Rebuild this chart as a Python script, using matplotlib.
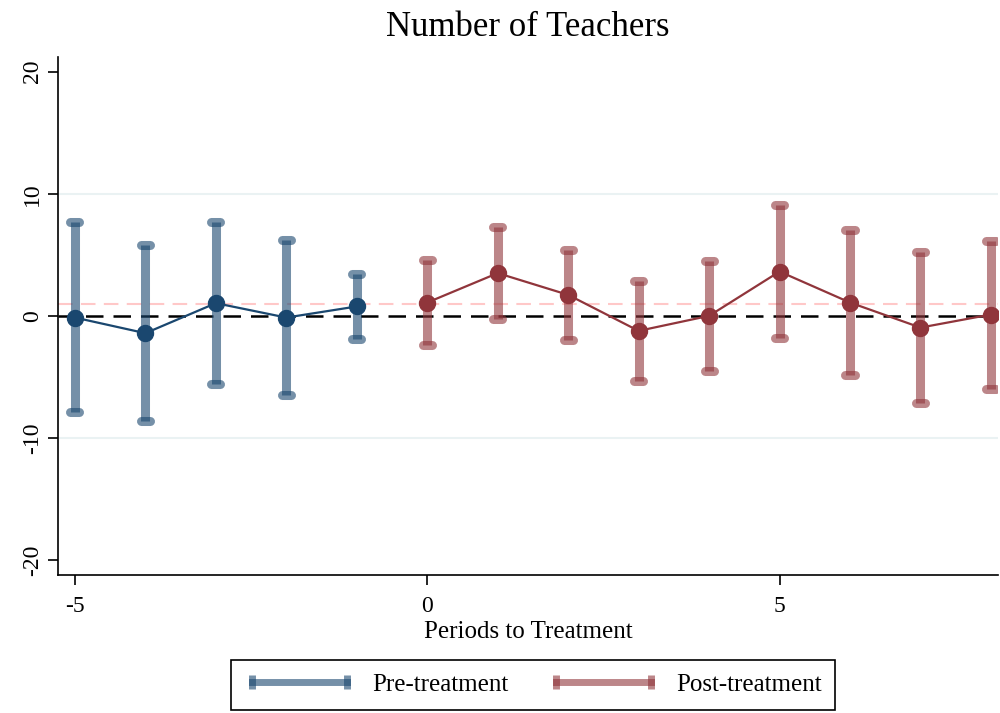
import matplotlib.pyplot as plt
from matplotlib.lines import Line2D
import numpy as np

plt.rcParams['font.family'] = ['Liberation Serif', 'DejaVu Serif']
plt.rcParams['axes.unicode_minus'] = False

# event-study estimates with 95% CIs
pre_periods = [-5, -4, -3, -2, -1]
pre_coef = [-0.14, -1.42, 1.04, -0.14, 0.77]
pre_lo = [-7.9, -8.58, -5.6, -6.48, -1.89]
pre_hi = [7.68, 5.82, 7.68, 6.23, 3.44]

post_periods = [0, 1, 2, 3, 4, 5, 6, 7, 8]
post_coef = [1.09, 3.5, 1.72, -1.23, 0.0, 3.63, 1.09, -0.96, 0.11]
post_lo = [-2.38, -0.27, -2.0, -5.3, -4.51, -1.8, -4.84, -7.1, -5.96]
post_hi = [4.56, 7.27, 5.41, 2.87, 4.51, 9.1, 7.02, 5.22, 6.17]

navy = '#1a476f'
maroon = '#90353b'
ci_alpha = 0.6

fig = plt.figure(figsize=(10, 7.13), dpi=100)
ax = fig.add_axes([0.058, 0.194, 0.94, 0.726])

for y in (-10, 10):
    ax.axhline(y, color='#eaf2f3', lw=1.5, zorder=0)

post_mean = np.mean(post_coef)
ax.axhline(post_mean, color='#ffc8c8', lw=1.5, ls=(0, (7, 4)), zorder=1)
ax.axhline(0, color='black', lw=1.8, ls=(0, (7, 4)), zorder=2)


def draw_ci(x, lo, hi, coef, color):
    x = np.asarray(x)
    cap = 0.065
    ax.vlines(x, lo, hi, color=color, alpha=ci_alpha, lw=6.5, zorder=3)
    for ends in (lo, hi):
        ax.hlines(ends, x - cap, x + cap, color=color, alpha=ci_alpha,
                  lw=6.5, capstyle='round', zorder=3)
    ax.plot(x, coef, color=color, lw=1.6, marker='o', markersize=11.5,
            zorder=4)


draw_ci(pre_periods, pre_lo, pre_hi, pre_coef, navy)
draw_ci(post_periods, post_lo, post_hi, post_coef, maroon)

ax.set_xlim(-5.24, 8.1)
ax.set_ylim(-21.2, 21.2)
ax.set_xticks([-5, 0, 5])
ax.set_yticks([-20, -10, 0, 10, 20])
ax.tick_params(axis='both', labelsize=17, length=7, width=1.2)
ax.tick_params(axis='x', pad=8)
for lab in ax.get_yticklabels():
    lab.set_rotation(90)
    lab.set_va('center')
ax.spines['top'].set_visible(False)
ax.spines['right'].set_visible(False)
ax.spines['left'].set_linewidth(1.2)
ax.spines['bottom'].set_linewidth(1.2)

ax.set_xlabel('Periods to Treatment', fontsize=18, labelpad=3)
ax.set_title('Number of Teachers', fontsize=25, pad=15)

handles = [
    Line2D([], [], color=navy, alpha=ci_alpha, lw=5, marker='|',
           markersize=10, mew=5),
    Line2D([], [], color=maroon, alpha=ci_alpha, lw=5, marker='|',
           markersize=10, mew=5),
]
leg = fig.legend(handles, ['Pre-treatment', 'Post-treatment'], ncol=2,
                 loc='lower center', bbox_to_anchor=(0.533, -0.006),
                 fontsize=18, numpoints=2, handlelength=4.4,
                 columnspacing=1.6, fancybox=False, edgecolor='black',
                 framealpha=1, borderpad=0.55, handletextpad=0.7,
                 borderaxespad=0.3)
leg.get_frame().set_linewidth(1.2)

fig.savefig('out.png', dpi=100)
